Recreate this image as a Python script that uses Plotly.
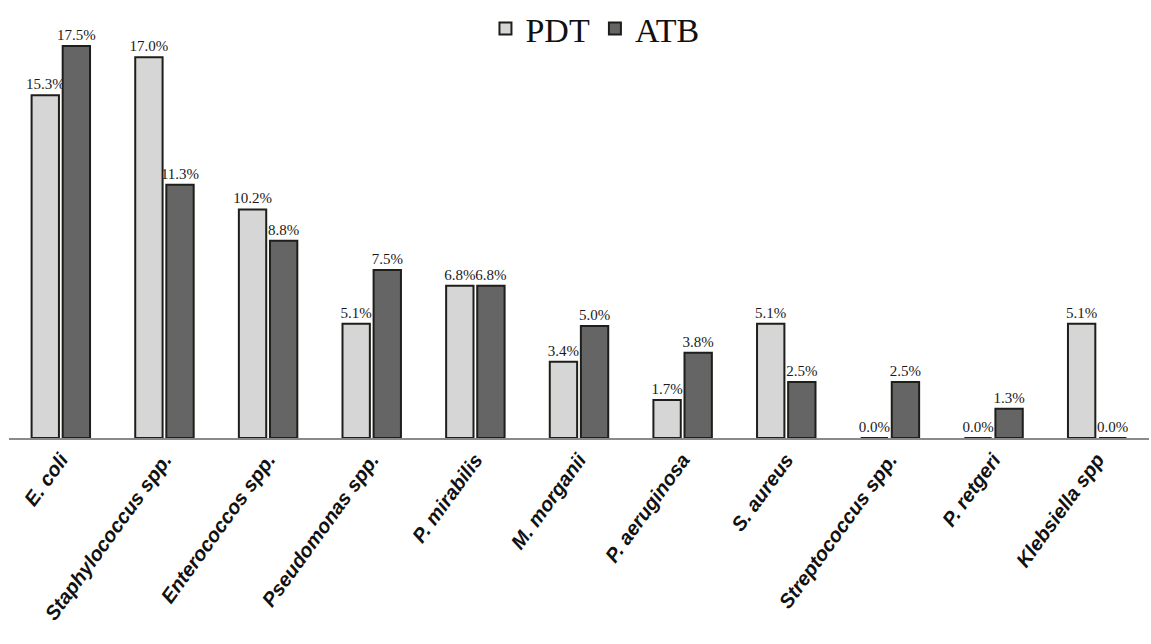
import plotly.graph_objects as go

# Pathogen groups and the share of isolates (%) in each treatment arm
species = ["E. coli", "Staphylococcus spp.", "Enterococcos spp.", "Pseudomonas spp.",
           "P. mirabilis", "M. morganii", "P. aeruginosa", "S. aureus",
           "Streptococcus spp.", "P. retgeri", "Klebsiella spp"]
pdt = [15.3, 17.0, 10.2, 5.1, 6.8, 3.4, 1.7, 5.1, 0.0, 0.0, 5.1]
atb = [17.5, 11.3, 8.8, 7.5, 6.8, 5.0, 3.8, 2.5, 2.5, 1.3, 0.0]

label_font = dict(family="Liberation Serif, Times New Roman, serif", size=15, color="#1a1a1a")

fig = go.Figure()
for name, vals, color in [("PDT", pdt, "#d6d6d6"), ("ATB", atb, "#656565")]:
    fig.add_trace(go.Bar(
        name=name, x=species, y=vals,
        marker=dict(color=color, line=dict(color="#1e1e1a", width=2)),
        text=[f"{v:.1f}%" for v in vals], textposition="outside",
        textfont=label_font, outsidetextfont=label_font,
        constraintext="none", cliponaxis=False,
    ))

fig.update_layout(
    width=1151, height=644,
    margin=dict(l=9, r=2, t=0, b=206, autoexpand=False),
    paper_bgcolor="white", plot_bgcolor="white",
    barmode="group", bargap=0.4, bargroupgap=0.12,
    showlegend=True,
    legend=dict(orientation="h", x=0.514, xanchor="center",
                yref="container", y=1.0, yanchor="top",
                font=dict(family="Liberation Serif, Times New Roman, serif", size=34, color="#111"),
                itemwidth=30, tracegroupgap=0, bgcolor="rgba(0,0,0,0)"),
    xaxis=dict(tickangle=-54, showline=True, linecolor="#8a8a8a", linewidth=2,
               ticks="", showgrid=False,
               tickfont=dict(family="Liberation Sans, Arial, sans-serif", size=20,
                             color="#111", weight="bold", style="italic")),
    yaxis=dict(range=[0, 19.55], visible=False, showgrid=False, zeroline=False),
)

fig.write_html("out.html")
